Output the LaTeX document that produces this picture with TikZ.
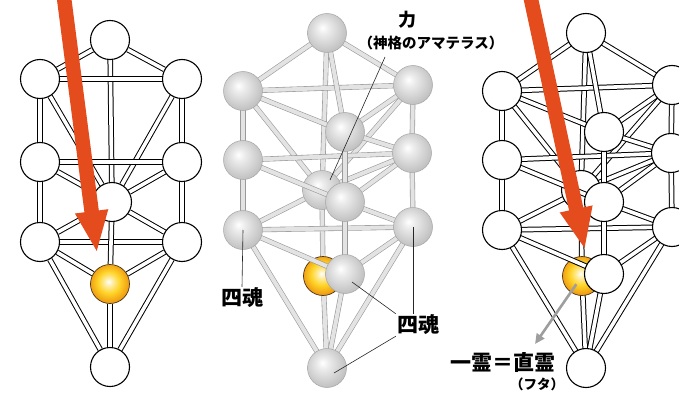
\documentclass[tikz,border=0pt]{standalone}
\usepackage{fontspec}
\newfontfamily\jpfont{Noto Sans CJK JP}
\usetikzlibrary{arrows.meta,calc}
\definecolor{arrowred}{RGB}{228,76,30}
\definecolor{goldlight}{RGB}{255,212,40}
\definecolor{golddark}{RGB}{236,146,12}
\pgfdeclarelayer{backrod}
\pgfdeclarelayer{backball}
\pgfdeclarelayer{frontrod}
\pgfsetlayers{backrod,backball,frontrod,main}
\pgfdeclareradialshading{orbshade}{\pgfpoint{-6bp}{7bp}}{color(0bp)=(white); color(8bp)=(gray!16); color(20bp)=(gray!36); color(33bp)=(gray!58); color(50bp)=(gray!58)}
\pgfdeclareradialshading{goldshade}{\pgfpoint{-2bp}{3bp}}{color(0bp)=(white); color(5bp)=(goldlight!40!white); color(14bp)=(goldlight); color(27bp)=(golddark); color(50bp)=(golddark)}
\tikzset{
	disc/.style={
		circle,
		draw=black,
		line width=1.1pt,
		fill=white,
		minimum size=39pt,
		inner sep=0pt
	},
	pipe/.style={
		draw=black,
		line width=1pt,
		double=white,
		double distance=3.6pt
	},
	gorb/.style={
		circle,
		draw=gray!70,
		line width=0.5pt,
		shading=orbshade,
		minimum size=39pt,
		inner sep=0pt
	},
	grod/.style={
		draw=gray!80,
		line width=0.6pt,
		double=gray!22,
		double distance=4pt
	},
	gold/.style={
		circle,
		draw=black!60!brown,
		line width=0.7pt,
		shading=goldshade,
		minimum size=39pt,
		inner sep=0pt
	},
	jtext/.style={
		inner sep=1pt,
		text=black
	},
	leader/.style={
		draw=black!85,
		line width=0.6pt
	},
	pointer/.style={
		draw=black!38,
		line width=2.6pt,
		-{Triangle[width=9pt,length=10pt]}
	},
	bigarrow/.style={
		draw=arrowred,
		line width=14.5pt,
		-{Triangle[width=30pt,length=42pt]}
	},
}
\newcommand{\jpsize}[1]{\jpfont\bfseries\fontsize{#1}{#1}\selectfont}
% tree seen in depth, #1 = name prefix
\newcommand{\solidtree}[1]{%
	\node[orb] (#1-top) at (327,33) {};
	\node[orb] (#1-ul) at (243,91) {};
	\node[orb] (#1-ur) at (413,85) {};
	\node[orb] (#1-inn) at (345,132) {};
	\node[orb] (#1-ml) at (243,160) {};
	\node[orb] (#1-mr) at (412,153) {};
	\node[orb] (#1-cf) at (345,202) {};
	\node[orb] (#1-ll) at (243,230) {};
	\node[orb] (#1-lr) at (413,227) {};
	\node[orb] (#1-lf) at (345,274) {};
	\node[orb] (#1-bot) at (327,368) {};
	\begin{pgfonlayer}{backball}
		\node[orb] (#1-cb) at (322,190) {};
		\node[gold] (#1-yel) at (323,276) {};
	\end{pgfonlayer}
	\begin{pgfonlayer}{backrod}
		\foreach \p/\q in {top/cb,ul/cb,ur/cb,mr/cb,ll/cb,cb/yel,yel/bot,ul/ur,ml/mr,ll/lr}
			\draw[rod] (#1-\p.center) -- (#1-\q.center);
	\end{pgfonlayer}
	\begin{pgfonlayer}{frontrod}
		\foreach \p/\q in {top/ul,top/ur,top/inn,ul/inn,ur/inn,ul/ml,ur/mr,inn/mr,inn/cf,ml/cf,mr/cf,ml/ll,mr/lr,lr/cf,cf/lf,ll/lf,lr/lf,ll/bot,lr/bot,lf/bot}
			\draw[rod] (#1-\p.center) -- (#1-\q.center);
	\end{pgfonlayer}
}
\begin{document}
\begin{tikzpicture}[x=1pt, y=-1pt]
	\useasboundingbox (0,0) rectangle (679,393);
	\clip (0,0) rectangle (679,393);
	% flat tree
	\node[disc] (l-top) at (110,40) {};
	\node[disc] (l-ul) at (40,79) {};
	\node[disc] (l-ur) at (182,79) {};
	\node[disc] (l-ml) at (40,162) {};
	\node[disc] (l-mr) at (182,162) {};
	\node[disc] (l-c) at (112,202) {};
	\node[disc] (l-ll) at (40,242) {};
	\node[disc] (l-lr) at (182,242) {};
	\node[gold] (l-yel) at (110,284) {};
	\node[disc] (l-bot) at (110,367) {};
	\begin{pgfonlayer}{frontrod}
		\foreach \p/\q in {top/ul,top/ur,top/c,ul/ur,ul/c,ur/c,ul/ml,ur/mr,ml/mr,ml/c,mr/c,ml/ll,mr/lr,ll/lr,ll/c,lr/c,c/yel,ll/yel,lr/yel,yel/bot,ll/bot,lr/bot}
			\draw[pipe] (l-\p) -- (l-\q);
	\end{pgfonlayer}
	% grey tree and white tree
	\begin{scope}[orb/.style={gorb}, rod/.style={grod}]
		\solidtree{m}
	\end{scope}
	\begin{scope}[xshift=259pt, orb/.style={disc}, rod/.style={pipe}]
		\solidtree{r}
	\end{scope}
	% labels
	\node[jtext, font=\jpsize{18}] (chikara) at (407,20) {力};
	\node[jtext, font=\jpsize{14.5}] (kami) at (431,43) {（神格のアマテラス）};
	\coordinate (kami-foot) at (385,57);
	\draw[leader] (kami-foot) -- ($(m-cb)+(8,-10)$);
	\node[jtext, font=\jpsize{21}] (shikon-l) at (242,298) {四魂};
	\draw[leader] (m-ll.center) -- (shikon-l.north);
	\node[jtext, font=\jpsize{21}] (shikon-r) at (418,325) {四魂};
	\draw[leader] ($(m-lf)+(7,8)$) -- (shikon-r.north west);
	\draw[leader] (m-lr.center) -- (m-lr.center |- shikon-r.north);
	\draw[leader] ($(m-bot)+(7,5)$) -- (shikon-r.south west);
	\node[jtext, font=\jpsize{21}] (ichirei) at (503,362) {一霊＝直霊};
	\node[jtext, font=\jpsize{13.5}] (futa) at (537,384) {（フタ）};
	\coordinate (rei-tip) at (535,344);
	\draw[pointer, shorten <=10pt] (r-yel.center) -- (rei-tip);
	% red arrows
	\coordinate (redl-tail) at (63,-10);
	\coordinate (redl-tip) at (97,253);
	\draw[bigarrow] (redl-tail) -- (redl-tip);
	\coordinate (redr-tail) at (529,-10);
	\coordinate (redr-tip) at (585,250);
	\draw[bigarrow] (redr-tail) -- (redr-tip);
\end{tikzpicture}
\end{document}
